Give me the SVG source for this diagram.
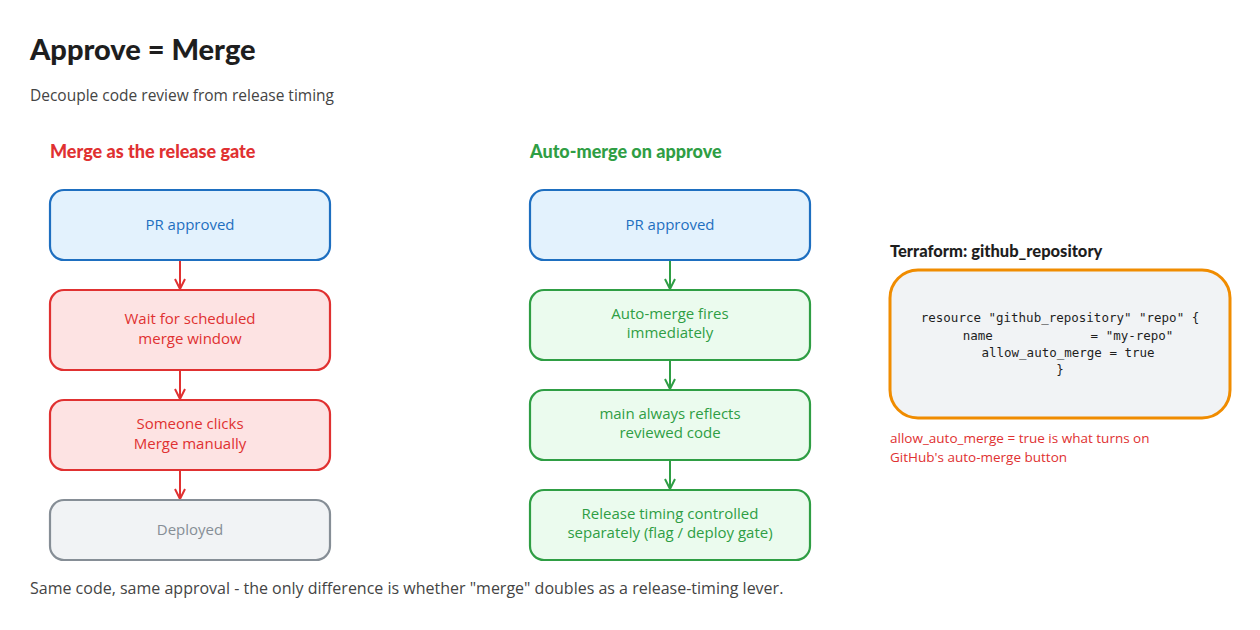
<svg xmlns="http://www.w3.org/2000/svg" width="1260" height="630" viewBox="0 0 1260 630">
<style>
.h{font-family:Lato,"Liberation Sans",sans-serif;font-weight:900}
.t{font-family:"Open Sans","Liberation Sans",sans-serif;font-size:15px;text-anchor:middle}
.box{stroke-width:2.2}
.b{fill:#e3f2fd;stroke:#1e6fc0}.r{fill:#fde3e3;stroke:#e03131}.g{fill:#f1f3f5;stroke:#868e96}.gr{fill:#ebfbee;stroke:#2f9e44}
.c{fill:none;stroke-width:2}
</style>
<defs>
<marker id="ar" viewBox="0 0 12 12" refX="11" refY="6" markerWidth="12" markerHeight="12" markerUnits="userSpaceOnUse" orient="auto"><path d="M1,1 L11,6 L1,11" fill="none" stroke="#e03131" stroke-width="2"/></marker>
<marker id="ag" viewBox="0 0 12 12" refX="11" refY="6" markerWidth="12" markerHeight="12" markerUnits="userSpaceOnUse" orient="auto"><path d="M1,1 L11,6 L1,11" fill="none" stroke="#2f9e44" stroke-width="2"/></marker>
</defs>
<rect width="1260" height="630" fill="#fff"/>
<text x="30" y="60" class="h" font-size="29" fill="#1e1e1e">Approve = Merge</text>
<text x="30" y="101" font-family="'Open Sans','Liberation Sans',sans-serif" font-size="15.5" fill="#444">Decouple code review from release timing</text>
<text x="50" y="158" class="h" font-size="18" fill="#e03131">Merge as the release gate</text>
<text x="530" y="158" class="h" font-size="18" fill="#2f9e44">Auto-merge on approve</text>
<text x="890" y="257" class="h" font-size="16.5" fill="#1e1e1e">Terraform: github_repository</text>
<g id="connectors">
<path class="c" stroke="#e03131" d="M180,261V289" marker-end="url(#ar)"/>
<path class="c" stroke="#e03131" d="M180,371V399" marker-end="url(#ar)"/>
<path class="c" stroke="#e03131" d="M180,471V499" marker-end="url(#ar)"/>
<path class="c" stroke="#2f9e44" d="M670,261V289" marker-end="url(#ag)"/>
<path class="c" stroke="#2f9e44" d="M670,361V389" marker-end="url(#ag)"/>
<path class="c" stroke="#2f9e44" d="M670,461V489" marker-end="url(#ag)"/>
</g>
<g id="l1"><rect class="box b" x="50" y="190" width="280" height="70" rx="14"/><text class="t" x="190" y="230" fill="#1e6fc0">PR approved</text></g>
<g id="l2"><rect class="box r" x="50" y="290" width="280" height="80" rx="14"/><text class="t" x="190" y="324" fill="#e03131">Wait for scheduled</text><text class="t" x="190" y="344" fill="#e03131">merge window</text></g>
<g id="l3"><rect class="box r" x="50" y="400" width="280" height="70" rx="14"/><text class="t" x="190" y="429" fill="#e03131">Someone clicks</text><text class="t" x="190" y="449" fill="#e03131">Merge manually</text></g>
<g id="l4"><rect class="box g" x="50" y="500" width="280" height="60" rx="14"/><text class="t" x="190" y="535" fill="#868e96">Deployed</text></g>
<g id="r1"><rect class="box b" x="530" y="190" width="280" height="70" rx="14"/><text class="t" x="670" y="230" fill="#1e6fc0">PR approved</text></g>
<g id="r2"><rect class="box gr" x="530" y="290" width="280" height="70" rx="14"/><text class="t" x="670" y="319" fill="#2f9e44">Auto-merge fires</text><text class="t" x="670" y="338" fill="#2f9e44">immediately</text></g>
<g id="r3"><rect class="box gr" x="530" y="390" width="280" height="70" rx="14"/><text class="t" x="670" y="419" fill="#2f9e44">main always reflects</text><text class="t" x="670" y="438" fill="#2f9e44">reviewed code</text></g>
<g id="r4"><rect class="box gr" x="530" y="490" width="280" height="70" rx="14"/><text class="t" x="670" y="519" fill="#2f9e44">Release timing controlled</text><text class="t" x="670" y="538" fill="#2f9e44">separately (flag / deploy gate)</text></g>
<g id="tf"><rect x="890" y="270" width="340" height="148" rx="28" fill="#f1f3f5" stroke="#f08c00" stroke-width="3"/>
<g font-family="'DejaVu Sans Mono','Liberation Mono',monospace" font-size="12.5" fill="#1e1e1e" text-anchor="middle">
<text x="1060" y="322">resource "github_repository" "repo" {</text>
<text x="1068" y="340">name&#160;&#160;&#160;&#160;&#160;&#160;&#160;&#160;&#160;&#160;&#160;&#160;&#160;= "my-repo"</text>
<text x="1068" y="357">allow_auto_merge = true</text>
<text x="1060" y="374">}</text></g></g>
<g font-family="'Open Sans','Liberation Sans',sans-serif" font-size="13.5" fill="#e03131"><text x="890" y="443">allow_auto_merge = true is what turns on</text><text x="890" y="462">GitHub's auto-merge button</text></g>
<text x="30" y="594" font-family="'Open Sans','Liberation Sans',sans-serif" font-size="16" fill="#444">Same code, same approval - the only difference is whether "merge" doubles as a release-timing lever.</text>
</svg>
